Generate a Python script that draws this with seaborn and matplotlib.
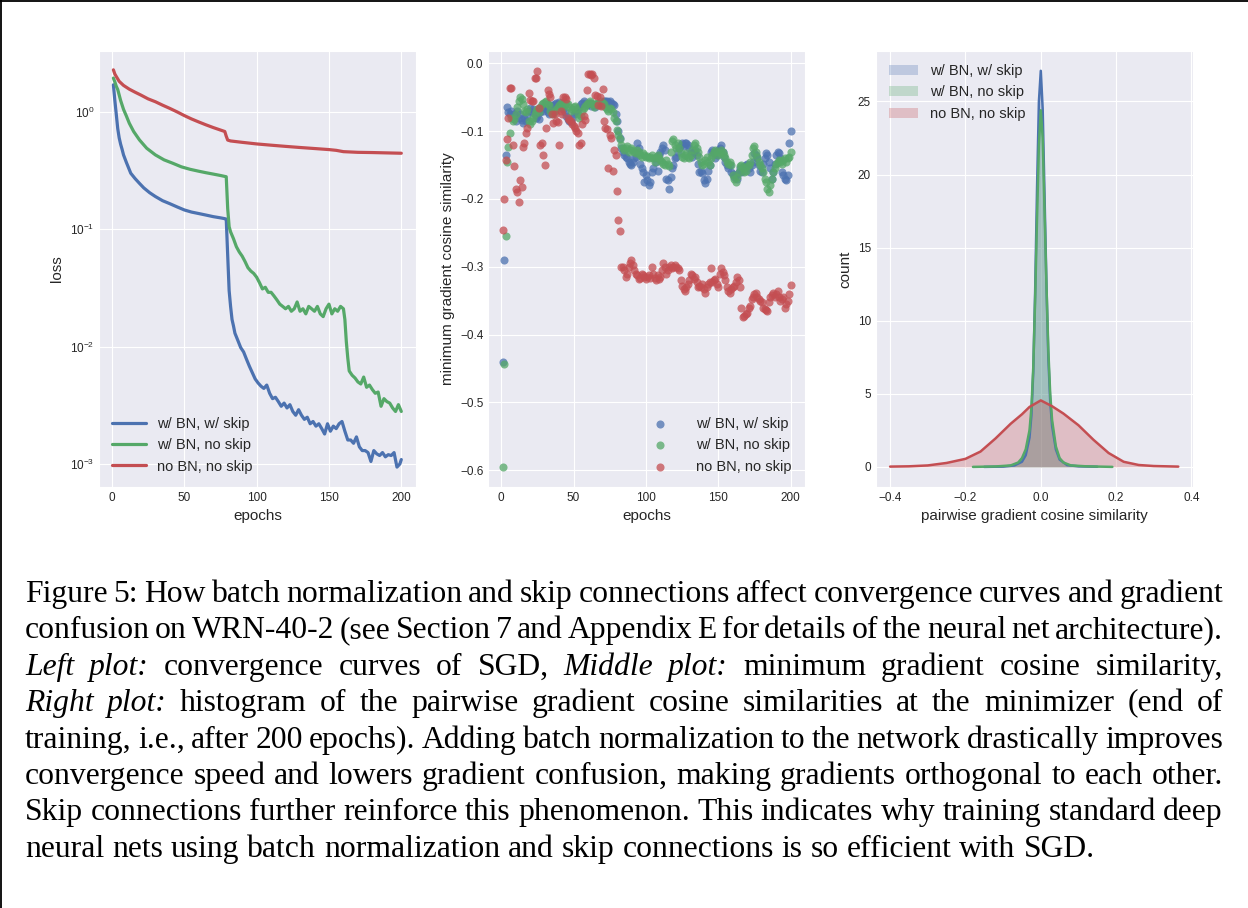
import matplotlib
matplotlib.use("Agg")
import matplotlib.pyplot as plt
from matplotlib.lines import Line2D
import seaborn as sns

# colours of the old seaborn "deep" palette
BLUE = "#4C72B0"
GREEN = "#55A868"
RED = "#C44E52"
names = ["w/ BN, w/ skip", "w/ BN, no skip", "no BN, no skip"]

# ---- left plot: training loss -------------------------------------------
ep_skip = [1, 2, 3, 4, 5, 6, 7, 8, 10, 13, 16, 19, 22, 26, 30, 35, 40, 45, 50, 55,
           60, 65, 70, 75, 78, 79, 80, 81, 82, 83, 84, 85, 87, 89, 91, 93, 95, 97, 99, 101,
           103, 105, 107, 109, 111, 113, 115, 117, 119, 121, 123, 125, 127, 129, 131, 133,
           135, 137, 139, 141, 143, 145, 147, 149, 151, 153, 155, 157, 159, 161, 163, 165,
           167, 169, 171, 173, 175, 177, 179, 181, 183, 185, 187, 189, 191, 193, 195, 197,
           199, 200]
loss_skip = [1.70, 1.25, 0.95, 0.72, 0.60, 0.53, 0.48, 0.43, 0.37, 0.30, 0.27, 0.246,
             0.225, 0.205, 0.19, 0.175, 0.165, 0.155, 0.146, 0.14, 0.136, 0.132, 0.128,
             0.125, 0.123, 0.122, 0.06, 0.03, 0.022, 0.017, 0.015, 0.013, 0.0113, 0.0098,
             0.009, 0.0078, 0.0068, 0.006, 0.0053, 0.0049, 0.0046, 0.0044, 0.0047, 0.0040,
             0.0036, 0.0037, 0.0034, 0.0031, 0.0033, 0.0030, 0.0032, 0.0028, 0.0026,
             0.0029, 0.0026, 0.0024, 0.0025, 0.0022, 0.0023, 0.0021, 0.0022, 0.0020,
             0.0018, 0.0022, 0.0019, 0.0021, 0.0020, 0.0022, 0.0023, 0.0019, 0.0016,
             0.0016, 0.0015, 0.0017, 0.0014, 0.0013, 0.0013, 0.00125, 0.00105, 0.0013,
             0.00122, 0.00118, 0.00125, 0.00115, 0.0012, 0.00118, 0.00125, 0.00094,
             0.0010, 0.00109]

ep_noskip = [1, 2, 3, 4, 6, 8, 10, 12, 15, 19, 24, 30, 36, 42, 48, 54, 60, 65, 70, 75,
             79, 80, 81, 82, 84, 86, 88, 90, 92, 94, 96, 98, 100, 102, 104, 106, 108, 110,
             112, 114, 116, 118, 120, 122, 124, 126, 128, 130, 132, 134, 136, 138, 140,
             142, 144, 146, 148, 150, 152, 154, 156, 158, 160, 161, 162, 163, 164, 166,
             168, 170, 172, 174, 176, 178, 180, 182, 184, 186, 188, 190, 192, 194, 196,
             198, 200]
loss_noskip = [1.94, 1.80, 1.65, 1.55, 1.25, 1.05, 0.92, 0.80, 0.68, 0.577, 0.49, 0.43,
               0.39, 0.365, 0.34, 0.324, 0.312, 0.303, 0.295, 0.287, 0.28, 0.15, 0.105,
               0.095, 0.083, 0.071, 0.064, 0.059, 0.053, 0.047, 0.044, 0.042, 0.039, 0.035,
               0.031, 0.032, 0.029, 0.029, 0.027, 0.025, 0.023, 0.022, 0.021, 0.022, 0.020,
               0.021, 0.024, 0.020, 0.021, 0.019, 0.022, 0.021, 0.020, 0.022, 0.019, 0.018,
               0.021, 0.023, 0.019, 0.021, 0.020, 0.022, 0.021, 0.017, 0.011, 0.008,
               0.0062, 0.0057, 0.0054, 0.0050, 0.0048, 0.0055, 0.0045, 0.0047, 0.0043,
               0.0040, 0.0041, 0.0031, 0.0036, 0.0034, 0.0033, 0.0030, 0.0028, 0.0032,
               0.0028]

ep_nobn = [1, 2, 3, 5, 8, 12, 16, 20, 25, 30, 35, 40, 45, 50, 55, 60, 65, 70, 75, 78,
           79, 80, 82, 90, 100, 110, 120, 130, 140, 150, 155, 160, 170, 180, 190, 200]
loss_nobn = [2.28, 2.10, 2.00, 1.82, 1.68, 1.56, 1.47, 1.39, 1.29, 1.22, 1.14, 1.07,
             1.00, 0.93, 0.87, 0.82, 0.775, 0.735, 0.70, 0.68, 0.62, 0.575, 0.565, 0.55,
             0.533, 0.52, 0.508, 0.497, 0.487, 0.477, 0.47, 0.458, 0.452, 0.45, 0.447,
             0.444]

# ---- middle plot: minimum gradient cosine similarity (epochs 1..200) -----
epochs = list(range(1, 201))
min_cos_skip = [
    -0.44, -0.29, -0.135, -0.064, -0.072, -0.075, -0.07, -0.08, -0.075, -0.085,
    -0.07, -0.08, -0.075, -0.083, -0.088, -0.08, -0.085, -0.078, -0.07, -0.066,
    -0.072, -0.068, -0.075, -0.08, -0.078, -0.082, -0.072, -0.066, -0.07, -0.065,
    -0.068, -0.072, -0.075, -0.069, -0.062, -0.063, -0.06, -0.058, -0.06, -0.057,
    -0.062, -0.065, -0.068, -0.072, -0.078, -0.082, -0.085, -0.087, -0.08, -0.075,
    -0.07, -0.072, -0.068, -0.065, -0.06, -0.058, -0.056, -0.058, -0.062, -0.06,
    -0.058, -0.063, -0.06, -0.062, -0.065, -0.06, -0.058, -0.06, -0.062, -0.058,
    -0.056, -0.055, -0.055, -0.057, -0.056, -0.058, -0.06, -0.062, -0.075, -0.085,
    -0.1, -0.11, -0.125, -0.13, -0.135, -0.138, -0.14, -0.145, -0.148, -0.15,
    -0.145, -0.14, -0.138, -0.118, -0.125, -0.148, -0.155, -0.16, -0.175, -0.165,
    -0.172, -0.18, -0.175, -0.16, -0.155, -0.14, -0.145, -0.158, -0.135, -0.13,
    -0.125, -0.12, -0.128, -0.17, -0.172, -0.185, -0.168, -0.155, -0.15, -0.14,
    -0.138, -0.13, -0.125, -0.12, -0.118, -0.122, -0.117, -0.118, -0.12, -0.125,
    -0.132, -0.138, -0.13, -0.128, -0.135, -0.148, -0.16, -0.158, -0.162, -0.172,
    -0.176, -0.17, -0.158, -0.15, -0.13, -0.128, -0.132, -0.14, -0.135, -0.128,
    -0.125, -0.12, -0.13, -0.138, -0.145, -0.15, -0.155, -0.15, -0.16, -0.163,
    -0.168, -0.165, -0.17, -0.16, -0.155, -0.16, -0.158, -0.152, -0.15, -0.148,
    -0.155, -0.16, -0.15, -0.145, -0.132, -0.135, -0.14, -0.15, -0.158, -0.16,
    -0.148, -0.14, -0.132, -0.135, -0.145, -0.155, -0.17, -0.16, -0.148, -0.135,
    -0.13, -0.132, -0.14, -0.16, -0.165, -0.17, -0.172, -0.165, -0.117, -0.1]
min_cos_noskip = [
    -0.595, -0.443, -0.255, -0.145, -0.124, -0.102, -0.08, -0.085, -0.082, -0.075,
    -0.065, -0.055, -0.05, -0.052, -0.06, -0.07, -0.072, -0.068, -0.085, -0.09,
    -0.085, -0.08, -0.074, -0.07, -0.068, -0.072, -0.065, -0.06, -0.058, -0.057,
    -0.056, -0.06, -0.062, -0.07, -0.073, -0.075, -0.07, -0.068, -0.065, -0.062,
    -0.058, -0.06, -0.064, -0.062, -0.058, -0.06, -0.065, -0.07, -0.068, -0.065,
    -0.063, -0.068, -0.075, -0.08, -0.078, -0.07, -0.066, -0.063, -0.06, -0.058,
    -0.056, -0.058, -0.06, -0.065, -0.06, -0.058, -0.06, -0.062, -0.055, -0.058,
    -0.06, -0.065, -0.068, -0.07, -0.066, -0.068, -0.072, -0.08, -0.085, -0.098,
    -0.105, -0.112, -0.12, -0.125, -0.128, -0.125, -0.122, -0.13, -0.128, -0.125,
    -0.128, -0.13, -0.132, -0.128, -0.13, -0.135, -0.138, -0.132, -0.135, -0.138,
    -0.136, -0.14, -0.138, -0.135, -0.14, -0.145, -0.138, -0.135, -0.14, -0.142,
    -0.145, -0.148, -0.15, -0.142, -0.148, -0.152, -0.13, -0.115, -0.112, -0.12,
    -0.125, -0.118, -0.125, -0.132, -0.138, -0.14, -0.135, -0.132, -0.138, -0.14,
    -0.135, -0.128, -0.12, -0.118, -0.125, -0.13, -0.138, -0.145, -0.15, -0.148,
    -0.142, -0.138, -0.145, -0.15, -0.14, -0.135, -0.13, -0.128, -0.13, -0.135,
    -0.132, -0.128, -0.13, -0.135, -0.14, -0.145, -0.148, -0.145, -0.15, -0.165,
    -0.17, -0.175, -0.168, -0.16, -0.152, -0.15, -0.155, -0.16, -0.158, -0.152,
    -0.15, -0.145, -0.135, -0.125, -0.122, -0.13, -0.138, -0.145, -0.15, -0.155,
    -0.16, -0.17, -0.175, -0.185, -0.19, -0.18, -0.17, -0.16, -0.155, -0.148,
    -0.145, -0.142, -0.145, -0.148, -0.142, -0.14, -0.145, -0.14, -0.138, -0.13]
min_cos_nobn = [
    -0.245, -0.2, -0.142, -0.112, -0.08, -0.037, -0.037, -0.12, -0.152, -0.185,
    -0.19, -0.204, -0.172, -0.183, -0.124, -0.117, -0.103, -0.095, -0.043, -0.054,
    -0.055, -0.055, -0.022, -0.022, -0.011, -0.066, -0.121, -0.117, -0.135, -0.15,
    -0.096, -0.04, -0.045, -0.05, -0.074, -0.088, -0.075, -0.085, -0.087, -0.12,
    -0.07, -0.075, -0.05, -0.05, -0.052, -0.08, -0.084, -0.085, -0.09, -0.092,
    -0.095, -0.1, -0.103, -0.12, -0.118, -0.09, -0.078, -0.084, -0.04, -0.015,
    -0.015, -0.017, -0.015, -0.021, -0.047, -0.048, -0.062, -0.05, -0.063, -0.038,
    -0.085, -0.095, -0.097, -0.155, -0.105, -0.11, -0.158, -0.128, -0.135, -0.188,
    -0.231, -0.247, -0.30, -0.30, -0.305, -0.315, -0.31, -0.3, -0.295, -0.29,
    -0.298, -0.305, -0.31, -0.312, -0.318, -0.316, -0.31, -0.312, -0.315, -0.318,
    -0.315, -0.312, -0.316, -0.3, -0.31, -0.316, -0.32, -0.312, -0.318, -0.315,
    -0.305, -0.295, -0.3, -0.31, -0.305, -0.3, -0.298, -0.302, -0.3, -0.298,
    -0.3, -0.302, -0.305, -0.32, -0.328, -0.333, -0.335, -0.33, -0.325, -0.32,
    -0.31, -0.312, -0.318, -0.315, -0.322, -0.33, -0.328, -0.33, -0.325, -0.332,
    -0.338, -0.33, -0.325, -0.322, -0.302, -0.322, -0.32, -0.318, -0.325, -0.33,
    -0.31, -0.302, -0.308, -0.312, -0.32, -0.33, -0.335, -0.338, -0.332, -0.33,
    -0.328, -0.322, -0.315, -0.32, -0.33, -0.36, -0.374, -0.372, -0.37, -0.368,
    -0.36, -0.358, -0.348, -0.345, -0.34, -0.338, -0.345, -0.348, -0.35, -0.352,
    -0.36, -0.362, -0.364, -0.365, -0.352, -0.345, -0.342, -0.338, -0.345, -0.34,
    -0.335, -0.345, -0.35, -0.348, -0.345, -0.36, -0.355, -0.35, -0.34, -0.327]

# ---- right plot: distribution of pairwise cosine similarity ---------------
sim_skip = [-0.15, -0.1, -0.07, -0.05, -0.04, -0.03, -0.025, -0.02, -0.015, -0.01,
            -0.005, 0.0, 0.005, 0.01, 0.015, 0.02, 0.025, 0.03, 0.04, 0.05, 0.07, 0.1,
            0.15]
dens_skip = [0.0, 0.02, 0.1, 0.35, 0.8, 2.0, 3.5, 6.5, 12.0, 19.0, 25.0, 27.1, 24.5,
             18.5, 12.5, 7.5, 4.5, 2.8, 1.2, 0.5, 0.12, 0.04, 0.01]
sim_noskip = [-0.18, -0.12, -0.08, -0.06, -0.05, -0.04, -0.03, -0.025, -0.02, -0.015,
              -0.01, -0.005, 0.0, 0.005, 0.01, 0.015, 0.02, 0.025, 0.03, 0.04, 0.05,
              0.06, 0.08, 0.12, 0.19]
dens_noskip = [0.0, 0.03, 0.1, 0.3, 0.6, 1.2, 2.5, 4.0, 6.8, 11.5, 17.0, 22.0, 24.4,
               22.5, 17.5, 12.5, 8.0, 5.0, 3.2, 1.4, 0.6, 0.3, 0.1, 0.04, 0.0]
sim_nobn = [-0.4, -0.35, -0.3, -0.25, -0.2, -0.16, -0.12, -0.08, -0.05, -0.03, 0.0,
            0.03, 0.06, 0.1, 0.14, 0.18, 0.22, 0.26, 0.3, 0.365]
dens_nobn = [0.02, 0.04, 0.1, 0.27, 0.55, 1.05, 1.95, 2.95, 3.6, 4.1, 4.55, 4.15, 3.65,
             2.85, 1.85, 0.95, 0.35, 0.13, 0.06, 0.02]

caption = [
    [("Figure", 0), ("5:", 0), ("How", 0), ("batch", 0), ("normalization", 0), ("and", 0),
     ("skip", 0), ("connections", 0), ("affect", 0), ("convergence", 0), ("curves", 0),
     ("and", 0), ("gradient", 0)],
    [("confusion", 0), ("on", 0), ("WRN-40-2", 0), ("(see", 0), ("Section", 0), ("7", 0),
     ("and", 0), ("Appendix", 0), ("E", 0), ("for", 0), ("details", 0), ("of", 0),
     ("the", 0), ("neural", 0), ("net", 0), ("architecture).", 0)],
    [("Left", 1), ("plot:", 1), ("convergence", 0), ("curves", 0), ("of", 0), ("SGD,", 0),
     ("Middle", 1), ("plot:", 1), ("minimum", 0), ("gradient", 0), ("cosine", 0),
     ("similarity,", 0)],
    [("Right", 1), ("plot:", 1), ("histogram", 0), ("of", 0), ("the", 0), ("pairwise", 0),
     ("gradient", 0), ("cosine", 0), ("similarities", 0), ("at", 0), ("the", 0),
     ("minimizer", 0), ("(end", 0), ("of", 0)],
    [("training,", 0), ("i.e.,", 0), ("after", 0), ("200", 0), ("epochs).", 0),
     ("Adding", 0), ("batch", 0), ("normalization", 0), ("to", 0), ("the", 0),
     ("network", 0), ("drastically", 0), ("improves", 0)],
    [("convergence", 0), ("speed", 0), ("and", 0), ("lowers", 0), ("gradient", 0),
     ("confusion,", 0), ("making", 0), ("gradients", 0), ("orthogonal", 0), ("to", 0),
     ("each", 0), ("other.", 0)],
    [("Skip", 0), ("connections", 0), ("further", 0), ("reinforce", 0), ("this", 0),
     ("phenomenon.", 0), ("This", 0), ("indicates", 0), ("why", 0), ("training", 0),
     ("standard", 0), ("deep", 0)],
    [("neural", 0), ("nets", 0), ("using", 0), ("batch", 0), ("normalization", 0),
     ("and", 0), ("skip", 0), ("connections", 0), ("is", 0), ("so", 0), ("efficient", 0),
     ("with", 0), ("SGD.", 0)],
]

# ---- style ---------------------------------------------------------------
sns.set_style("darkgrid")
plt.rcParams["font.family"] = ["Liberation Sans", "DejaVu Sans"]
plt.rcParams["mathtext.default"] = "regular"
plt.rcParams["text.color"] = ".15"
plt.rcParams["axes.labelcolor"] = ".15"
plt.rcParams["xtick.color"] = ".15"
plt.rcParams["ytick.color"] = ".15"

W, H = 1248, 908
fig = plt.figure(figsize=(W / 100, H / 100), dpi=100)
fig.patch.set_facecolor("white")


def axes_px(x0, x1, top, bottom):
    return fig.add_axes([x0 / W, 1 - bottom / H, (x1 - x0) / W, (bottom - top) / H])


TICK_FS = 8.5
LABEL_FS = 11
LEG_FS = 10.5

# left
ax1 = axes_px(99, 415.7, 51, 486.7)
sns.lineplot(x=ep_skip, y=loss_skip, ax=ax1, color=BLUE, lw=2.3, label=names[0])
sns.lineplot(x=ep_noskip, y=loss_noskip, ax=ax1, color=GREEN, lw=2.3, label=names[1])
sns.lineplot(x=ep_nobn, y=loss_nobn, ax=ax1, color=RED, lw=2.3, label=names[2])
ax1.set_yscale("log")
ax1.set_ylim(6.4e-4, 3.3)
ax1.set_yticks([1e-3, 1e-2, 1e-1, 1])
ax1.set_xticks([0, 50, 100, 150, 200])
ax1.set_xlabel("epochs", fontsize=LABEL_FS)
ax1.set_ylabel("loss", fontsize=LABEL_FS)
ax1.legend(loc="lower left", fontsize=LEG_FS, frameon=False, handlelength=2.3)

# middle
ax2 = axes_px(488.3, 805, 51, 486.7)
sns.scatterplot(x=epochs, y=min_cos_skip, ax=ax2, color=BLUE, s=34, alpha=0.75,
                linewidth=0, label=names[0])
sns.scatterplot(x=epochs, y=min_cos_noskip, ax=ax2, color=GREEN, s=34, alpha=0.75,
                linewidth=0, label=names[1])
sns.scatterplot(x=epochs, y=min_cos_nobn, ax=ax2, color=RED, s=34, alpha=0.75,
                linewidth=0, label=names[2])
ax2.set_xticks([0, 50, 100, 150, 200])
ax2.set_yticks([0.0, -0.1, -0.2, -0.3, -0.4, -0.5, -0.6])
ax2.set_xlabel("epochs", fontsize=LABEL_FS)
ax2.set_ylabel("minimum gradient cosine similarity", fontsize=LABEL_FS)
ax2.legend(loc="lower right", fontsize=LEG_FS, frameon=False, handletextpad=1.5)

# right
ax3 = axes_px(875.7, 1192.7, 51, 486.7)
for xs, ys, c, n in [(sim_skip, dens_skip, BLUE, names[0]),
                     (sim_noskip, dens_noskip, GREEN, names[1]),
                     (sim_nobn, dens_nobn, RED, names[2])]:
    ax3.fill_between(xs, ys, color=c, alpha=0.28, lw=0, label=n)
    sns.lineplot(x=xs, y=ys, ax=ax3, color=c, lw=1.8)
ax3.set_xticks([-0.4, -0.2, 0.0, 0.2, 0.4])
ax3.set_yticks([0, 5, 10, 15, 20, 25])
ax3.set_xlabel("pairwise gradient cosine similarity", fontsize=LABEL_FS)
ax3.set_ylabel("count", fontsize=LABEL_FS)
ax3.legend(loc="upper left", fontsize=LEG_FS, frameon=False)

for ax in (ax1, ax2, ax3):
    ax.tick_params(labelsize=TICK_FS, length=0)

# ---- caption, justified like the paper -----------------------------------
CAP_FS = 22.8
cap_x0, cap_x1 = 25, 1223
base0, lead = 602, 36.4
renderer = fig.canvas.get_renderer()
space_w = CAP_FS * 100 / 72 * 0.25
for i, line in enumerate(caption):
    y = 1 - (base0 + i * lead) / H
    texts = [fig.text(0, y, w, fontsize=CAP_FS, family="Liberation Serif",
                      style="italic" if it else "normal", va="baseline", color="black")
             for w, it in line]
    widths = [t.get_window_extent(renderer).width for t in texts]
    if i < len(caption) - 1:
        gap = (cap_x1 - cap_x0 - sum(widths)) / (len(texts) - 1)
    else:
        gap = space_w
    x = cap_x0
    for t, w in zip(texts, widths):
        t.set_x(x / W)
        x += w + gap

# thin frame on the top and left edge of the page crop
fig.add_artist(Line2D([0, 1], [1 - 0.8 / H] * 2, transform=fig.transFigure,
                      color="black", lw=1.3))
fig.add_artist(Line2D([0.8 / W] * 2, [0, 1], transform=fig.transFigure,
                      color="black", lw=1.3))

fig.savefig("out.png", dpi=100)
